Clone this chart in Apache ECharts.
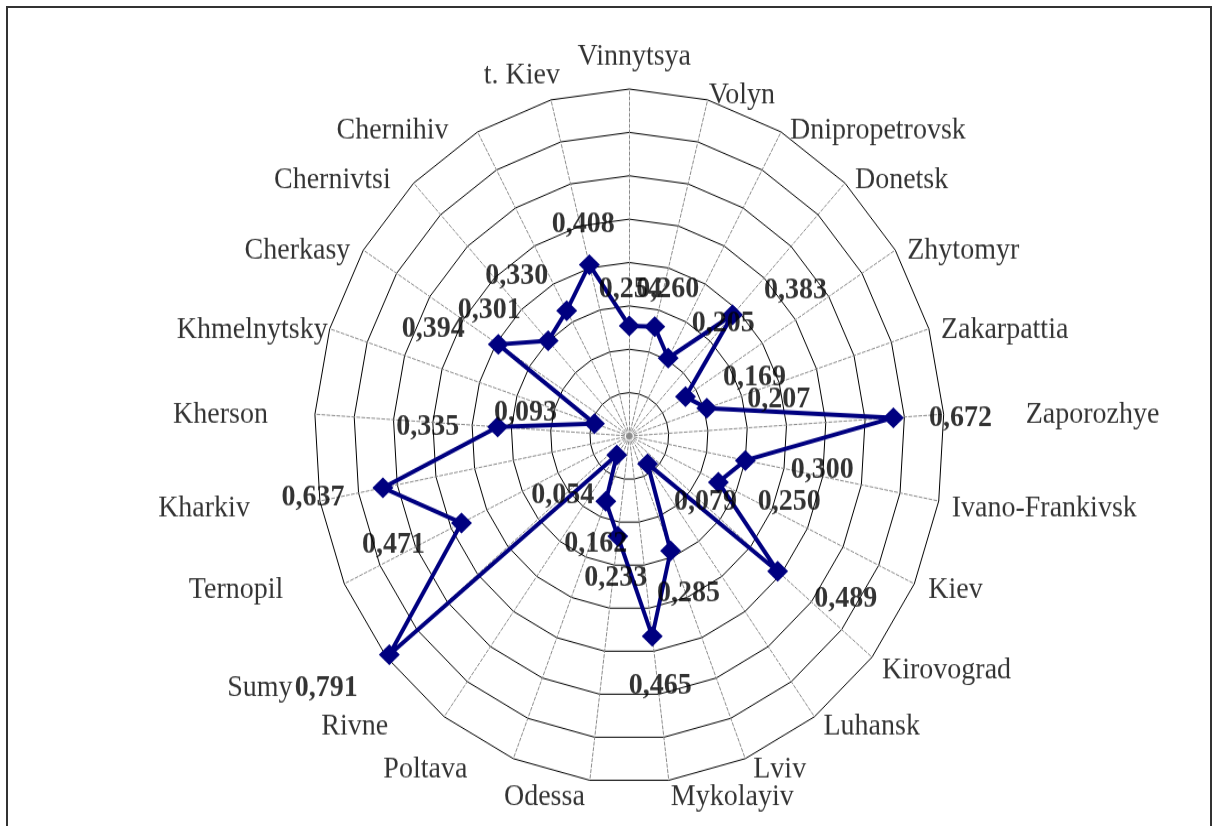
<!DOCTYPE html>
<html><head><meta charset="utf-8">
<script src="https://cdn.jsdelivr.net/npm/echarts@6/dist/echarts.min.js"></script>
<style>
html,body{margin:0;padding:0;background:#fff;overflow:hidden;width:1218px;height:826px;}
#frame{position:absolute;left:6px;top:6px;width:1206px;height:900px;border:2px solid #333;box-sizing:border-box;}
#chart{position:absolute;left:0;top:0;width:1218px;height:826px;transform-origin:629.3px 436px;transform:scaleY(1.1016);}
</style></head><body>
<div id="frame"></div>
<div id="chart"></div>
<script>
const categories = ['Vinnytsya','Volyn','Dnipropetrovsk','Donetsk','Zhytomyr','Zakarpattia','Zaporozhye','Ivano-Frankivsk','Kiev','Kirovograd','Luhansk','Lviv','Mykolayiv','Odessa','Poltava','Rivne','Sumy','Ternopil','Kharkiv','Kherson','Khmelnytsky','Cherkasy','Chernivtsi','Chernihiv','t. Kiev'];
const values = [0.254,0.260,0.205,0.383,0.169,0.207,0.672,0.300,0.250,0.489,0.079,0.285,0.465,0.233,0.162,0.054,0.791,0.471,0.637,0.335,0.093,0.394,0.301,0.330,0.408];
const axisMax = 0.8;
const axisSplits = 8;

// label placement styles (pixel offsets, final picture coordinates)
const valueLabelOffsets = [[1,-37],[13,-38],[55,-35],[63,-25],[69,-19],[72,-9],[67,0],[77,9],[71,20],[68,28],[58,38],[18,42],[8,50],[-2,42],[-10,42],[-54,40],[-63,33],[-68,22],[-70,10],[-70,0],[-69,-11],[-65,-16],[-59,-31],[-50,-35],[-6,-40]];
const nameLabelStyles = [['center',5,-32],['left',1,-5],['left',9,-2],['left',10,-3],['left',12,0],['left',12,1],['left',82,1],['left',13,7],['left',14,6],['left',10,13],['left',9,10],['left',8,11],['left',2,17],['right',-5,17],['right',-46,11],['right',-56,10],['right',-94,31],['right',-61,6],['right',-70,7],['right',-47,1],['right',-2,1],['right',-13,0],['right',-23,-3],['right',-29,-2],['right',9,-25]];

const STRETCH = 1.1016;
const CENTER = [629.3, 436];
const RADIUS = 315;
const N = categories.length;
// ECharts radar runs counter-clockwise; reorder so the categories run clockwise
const order = [0].concat(Array.from({length: N - 1}, (_, k) => N - 1 - k));
const fmt = v => v.toFixed(3).replace('.', ',');
const serif = '"Liberation Serif","Times New Roman",serif';

const chart = echarts.init(document.getElementById('chart'), null, {renderer: 'canvas'});
chart.setOption({
  animation: false,
  radar: {
    center: CENTER, radius: RADIUS, startAngle: 90, splitNumber: axisSplits, shape: 'polygon',
    indicator: order.map(i => ({name: categories[i], min: 0, max: axisMax})),
    axisName: {show: false},
    splitLine: {lineStyle: {color: '#000', width: 1}},
    splitArea: {show: false},
    axisLine: {lineStyle: {color: '#8a8a8a', width: 1, type: [3, 2]}},
    axisTick: {show: false},
    axisLabel: {show: false}
  },
  polar: {center: CENTER, radius: RADIUS},
  angleAxis: {type: 'category', data: categories, startAngle: 90, clockwise: true, boundaryGap: false,
    axisLine: {show: false}, axisTick: {show: false}, axisLabel: {show: false}, splitLine: {show: false}},
  radiusAxis: {type: 'value', min: 0, max: axisMax, axisLine: {show: false}, axisTick: {show: false},
    axisLabel: {show: false}, splitLine: {show: false}},
  series: [
    {
      type: 'radar', z: 3,
      symbol: 'diamond', symbolSize: [21, 19],
      lineStyle: {color: '#000080', width: 4},
      itemStyle: {color: '#000080'},
      data: [{value: order.map(i => values[i])}]
    },
    {
      type: 'scatter', coordinateSystem: 'polar', z: 10, silent: true,
      symbolSize: 1, itemStyle: {color: 'rgba(0,0,0,0)'},
      label: {show: true, position: 'inside', color: '#000', fontFamily: serif, fontWeight: 'bold', fontSize: 28,
        formatter: p => fmt(values[p.dataIndex])},
      data: values.map((v, i) => ({value: [v, categories[i]],
        label: {offset: [valueLabelOffsets[i][0], valueLabelOffsets[i][1] / STRETCH]}}))
    },
    {
      type: 'scatter', coordinateSystem: 'polar', z: 10, silent: true,
      symbolSize: 1, itemStyle: {color: 'rgba(0,0,0,0)'},
      label: {show: true, position: 'inside', color: '#000', fontFamily: serif, fontSize: 28,
        verticalAlign: 'middle', formatter: p => categories[p.dataIndex]},
      data: categories.map((c, i) => ({value: [axisMax, c],
        label: {align: nameLabelStyles[i][0], offset: [nameLabelStyles[i][1], nameLabelStyles[i][2] / STRETCH]}}))
    }
  ]
});
</script>
</body></html>
